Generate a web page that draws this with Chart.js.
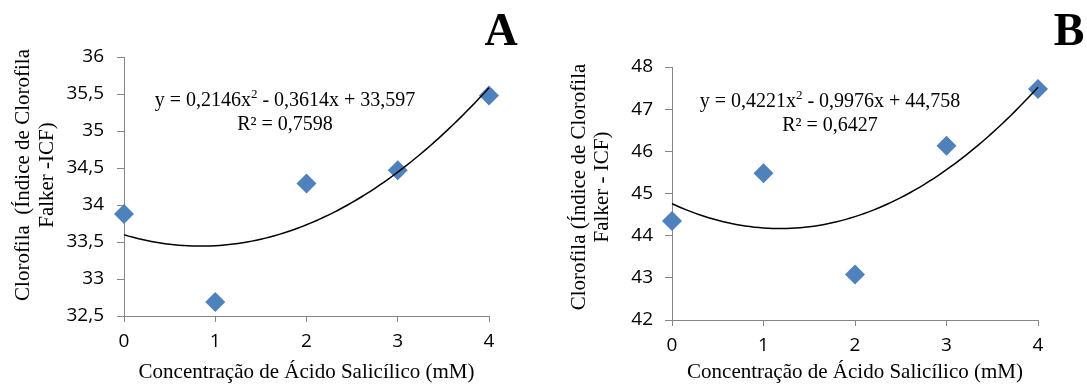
<!DOCTYPE html>
<html>
<head>
<meta charset="utf-8">
<script src="https://cdn.jsdelivr.net/npm/chart.js@4/dist/chart.umd.min.js"></script>
<style>
body{margin:0;background:#fff;width:1087px;height:385px;overflow:hidden;position:relative}
canvas{position:absolute;top:0}
</style>
</head>
<body>
<canvas id="graficoA" width="540" height="385" style="left:0"></canvas>
<canvas id="graficoB" width="547" height="385" style="left:540px"></canvas>
<script>
// doses de ácido salicílico (mM)
var doses = [0, 1, 2, 3, 4];
var clorofilaA = [33.88, 32.69, 34.29, 34.47, 35.48];
var clorofilaB = [44.35, 45.48, 43.08, 46.13, 47.48];
// coeficientes da linha de tendência (a, b, c) -> y = ax² + bx + c
var coefA = [0.2146, -0.3614, 33.597];
var coefB = [0.4221, -0.9976, 44.758];
var equacaoA = ['y = 0,2146x', '2', ' - 0,3614x + 33,597'];
var equacaoB = ['y = 0,4221x', '2', ' - 0,9976x + 44,758'];
var r2A = 'R² = 0,7598';
var r2B = 'R² = 0,6427';
var tituloYA = ['Clorofila  (Índice de Clorofila', 'Falker -ICF)'];
var tituloYB = ['Clorofila (Índice de Clorofila', 'Falker - ICF)'];
var tituloX = 'Concentração de Ácido Salicílico (mM)';
var eixoYA = [32.5, 36, 0.5];
var eixoYB = [42, 48, 1];

var cinza = '#868686';
var serif = '"Liberation Serif", "Times New Roman", serif';
Chart.defaults.font.family = 'Open Sans';
Chart.defaults.font.size = 19;

var anotacoes = {
    id: 'anotacoes',
    afterDatasetsDraw: function(chart, args, o){
        var ctx = chart.ctx, sx = chart.scales.x, sy = chart.scales.y;
        var c = o.coef;
        // linha de tendência
        ctx.save();
        ctx.beginPath();
        for (var i = 0; i <= 80; i++) {
            var v = i / 20;
            var px = sx.getPixelForValue(v);
            var py = sy.getPixelForValue(c[0]*v*v + c[1]*v + c[2]);
            if (i == 0) ctx.moveTo(px, py); else ctx.lineTo(px, py);
        }
        ctx.strokeStyle = '#000';
        ctx.lineWidth = 1.5;
        ctx.stroke();

        // equação
        ctx.fillStyle = '#000';
        ctx.textBaseline = 'alphabetic';
        ctx.textAlign = 'left';
        ctx.font = '20px ' + serif;
        var w1 = ctx.measureText(o.eq[0]).width;
        var w3 = ctx.measureText(o.eq[2]).width;
        ctx.font = '13px ' + serif;
        var w2 = ctx.measureText(o.eq[1]).width;
        var x0 = o.eqX - (w1 + w2 + w3) / 2;
        ctx.font = '20px ' + serif;
        ctx.fillText(o.eq[0], x0, o.eqY);
        ctx.fillText(o.eq[2], x0 + w1 + w2, o.eqY);
        ctx.font = '13px ' + serif;
        ctx.fillText(o.eq[1], x0 + w1, o.eqY - 8);
        ctx.font = '20px ' + serif;
        ctx.textAlign = 'center';
        ctx.fillText(o.r2, o.eqX, o.eqY + 24);

        // letra do painel
        ctx.font = 'bold 46px ' + serif;
        ctx.fillText(o.letra, o.letraX, 45);

        // título do eixo y
        ctx.font = '21px ' + serif;
        for (var j = 0; j < o.tituloY.length; j++) {
            ctx.save();
            ctx.translate(o.tyX[j], o.tyY);
            ctx.rotate(-Math.PI / 2);
            ctx.fillText(o.tituloY[j], 0, 0);
            ctx.restore();
        }
        ctx.restore();
    }
};

function montarGrafico(id, valores, eixoY, layout, notas){
    var pontos = doses.map(function(d, i){ return {x: d, y: valores[i]}; });
    return new Chart(document.getElementById(id), {
        type: 'scatter',
        data: {
            datasets: [{
                data: pontos,
                pointStyle: 'rectRot',
                pointRadius: 10,
                pointHoverRadius: 10,
                borderWidth: 0,
                backgroundColor: '#4F81BD',
                clip: false
            }]
        },
        plugins: [anotacoes],
        options: {
            responsive: false,
            animation: false,
            events: [],
            layout: {padding: {left: 0, top: layout.top, right: layout.right, bottom: 0}},
            plugins: {
                legend: {display: false},
                tooltip: {enabled: false},
                anotacoes: notas
            },
            scales: {
                x: {
                    type: 'linear',
                    min: 0, max: 4,
                    afterFit: function(s){ s.height = layout.altX; },
                    ticks: {stepSize: 1, color: '#000', padding: 8},
                    grid: {drawOnChartArea: false, color: cinza, tickLength: 6},
                    border: {color: cinza, width: 1},
                    title: {display: true, text: tituloX, color: '#000', padding: {top: 0, bottom: 0}, font: {family: serif, size: 21}}
                },
                y: {
                    min: eixoY[0], max: eixoY[1],
                    afterFit: function(s){ s.width = layout.largY; },
                    ticks: {
                        stepSize: eixoY[2], color: '#000', padding: layout.padY,
                        callback: function(v){ return String(v).replace('.', ','); }
                    },
                    grid: {drawOnChartArea: false, color: cinza, tickLength: 7},
                    border: {color: cinza, width: 1}
                }
            }
        }
    });
}

montarGrafico('graficoA', clorofilaA, eixoYA,
    {top: 57, right: 51, altX: 69, largY: 124, padY: 13},
    {coef: coefA, eq: equacaoA, r2: r2A, eqX: 285, eqY: 106, letra: 'A', letraX: 501,
     tituloY: tituloYA, tyX: [29, 53], tyY: 175});
montarGrafico('graficoB', clorofilaB, eixoYB,
    {top: 67, right: 49, altX: 65, largY: 132, padY: 12},
    {coef: coefB, eq: equacaoB, r2: r2B, eqX: 290, eqY: 107, letra: 'B', letraX: 529,
     tituloY: tituloYB, tyX: [45, 68], tyY: 187});
</script>
</body>
</html>
